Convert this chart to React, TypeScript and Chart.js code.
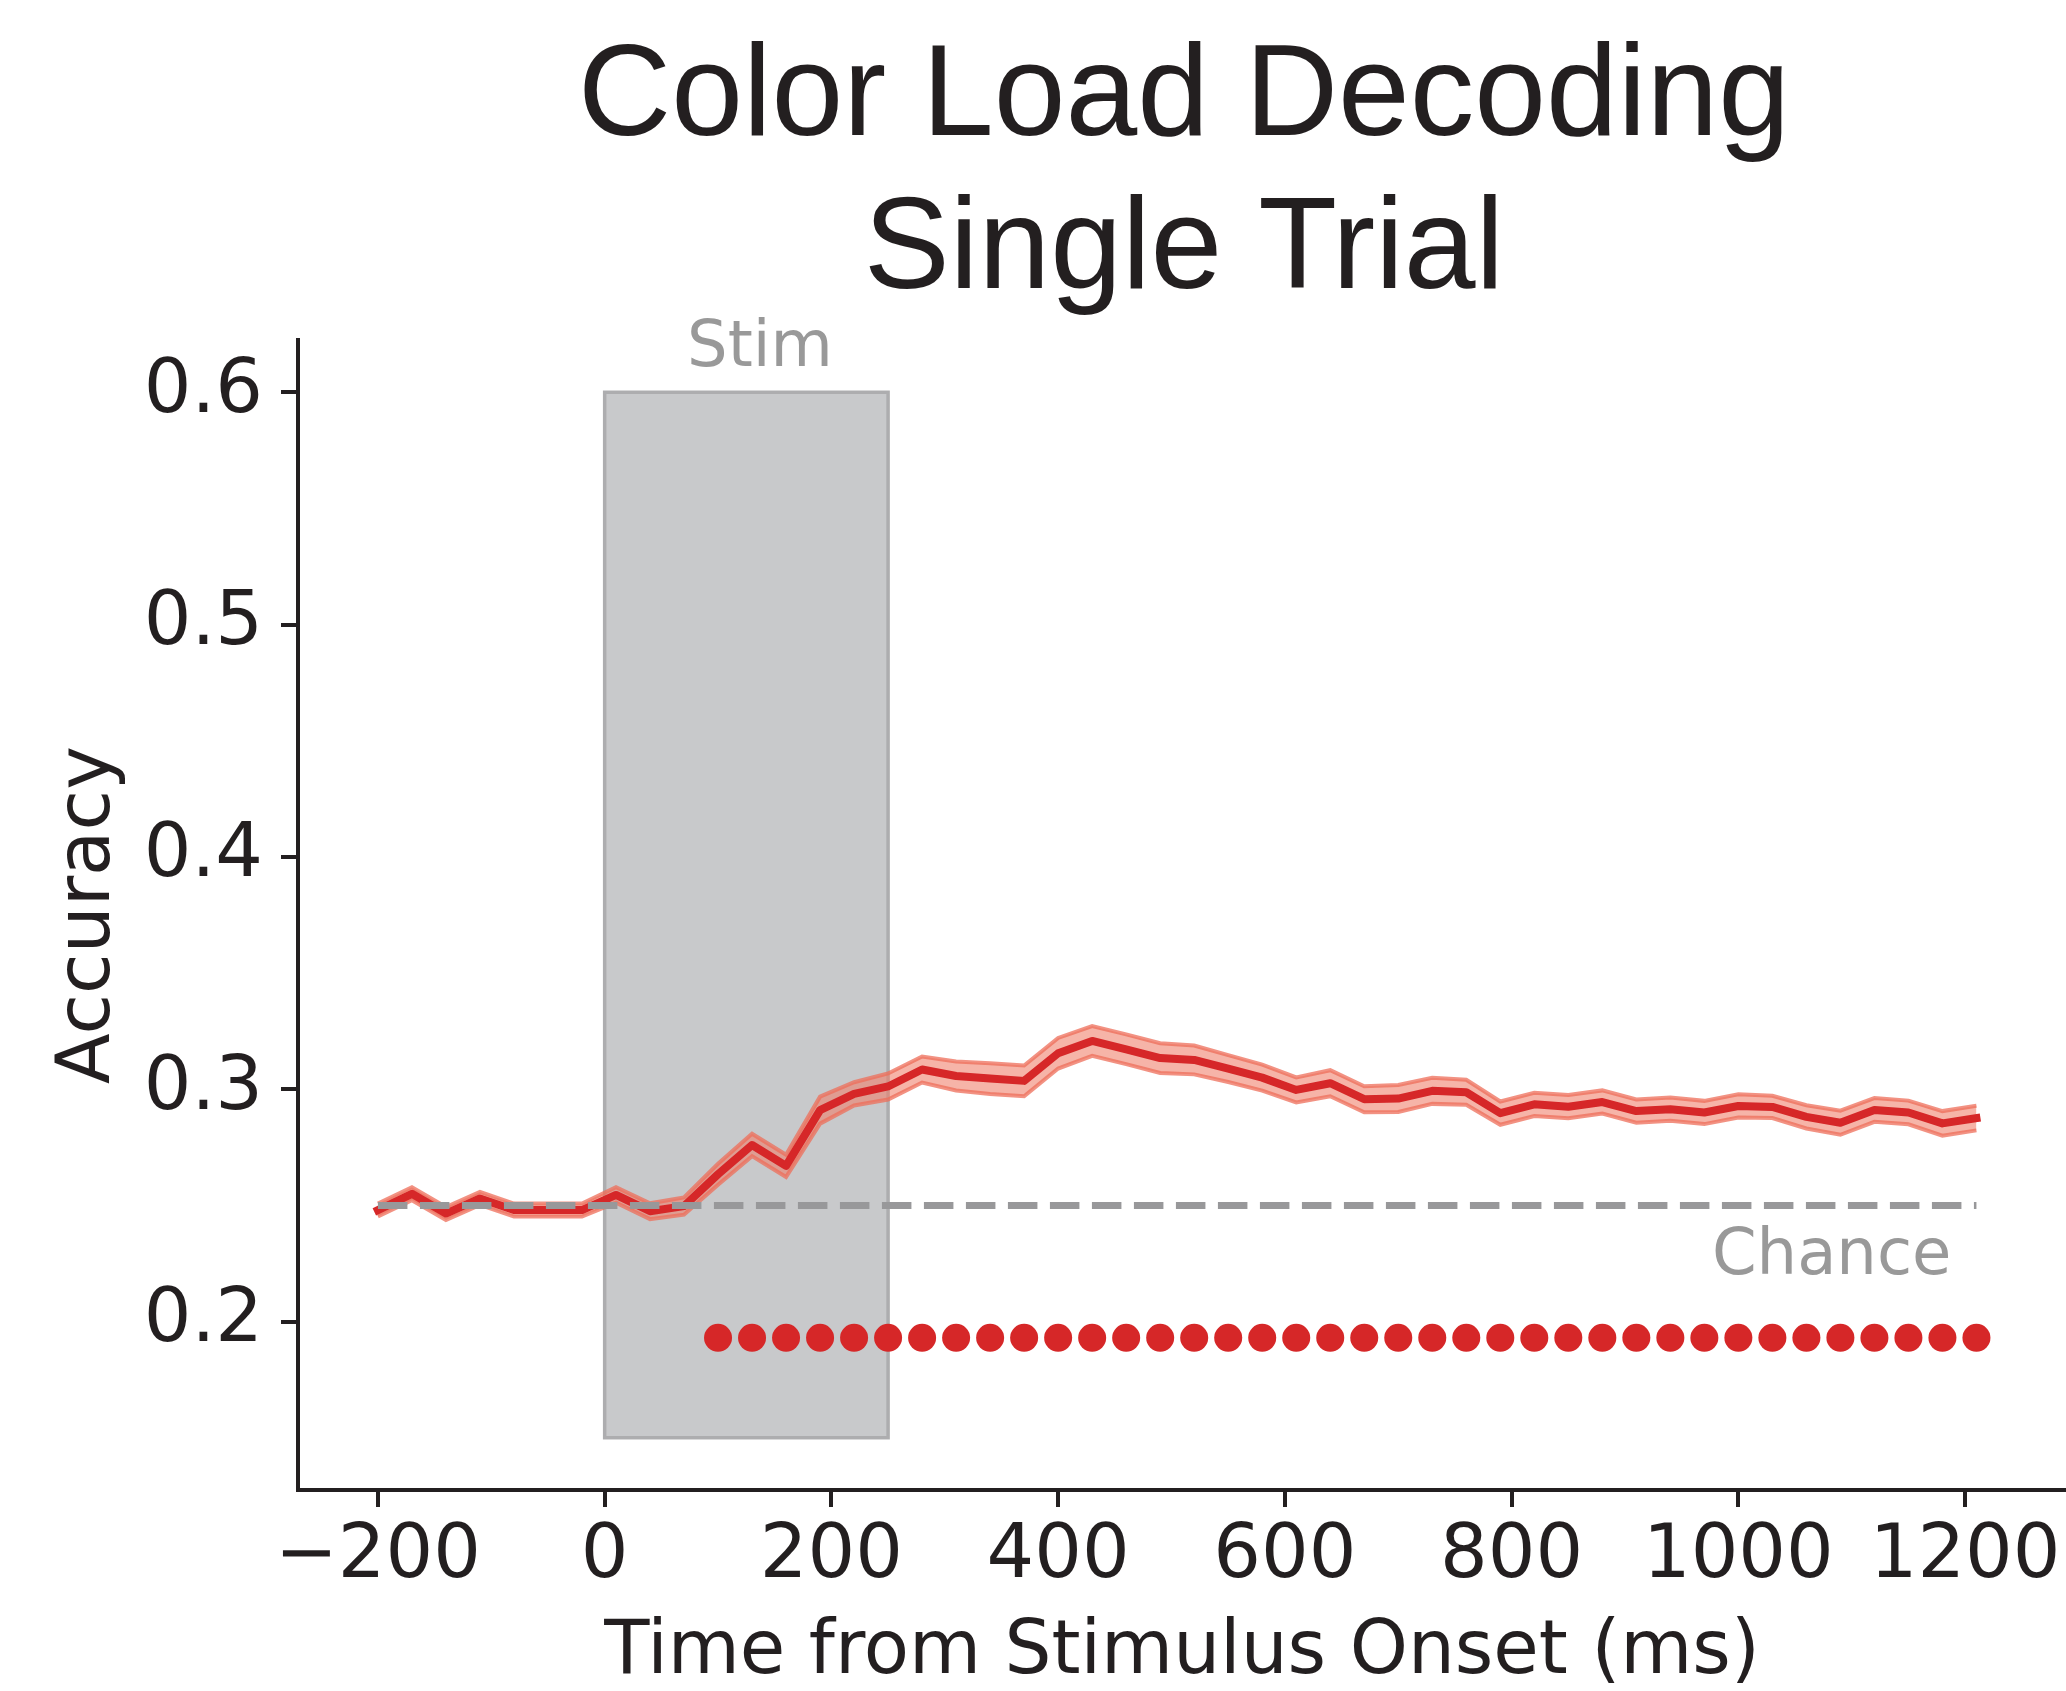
import React, { useEffect, useRef } from 'react';
import { Chart, registerables } from 'chart.js';

Chart.register(...registerables);

const TITLE_LINES = ['Color Load Decoding', 'Single Trial'];
const X_LABEL = 'Time from Stimulus Onset (ms)';
const Y_LABEL = 'Accuracy';

const TIMES = [
  -200, -170, -140, -110, -80, -50, -20, 10, 40, 70, 100, 130, 160, 190, 220, 250,
  280, 310, 340, 370, 400, 430, 460, 490, 520, 550, 580, 610, 640, 670, 700, 730,
  760, 790, 820, 850, 880, 910, 940, 970, 1000, 1030, 1060, 1090, 1120, 1150, 1180, 1210,
];

const MEAN = [
  0.248, 0.255, 0.2465, 0.253, 0.248, 0.248, 0.248, 0.2545, 0.2475, 0.2497, 0.2634, 0.276, 0.267, 0.291, 0.298, 0.3012,
  0.3085, 0.3057, 0.3046, 0.3036, 0.3155, 0.3208, 0.3172, 0.3134, 0.3126, 0.3089, 0.305, 0.2997, 0.3026, 0.2957, 0.296, 0.2993,
  0.2987, 0.2897, 0.2935, 0.2925, 0.2945, 0.2906, 0.2914, 0.29, 0.2928, 0.2924, 0.2881, 0.2856, 0.2911, 0.29, 0.2853, 0.2876,
];

const SEM = [
  0.0028, 0.0028, 0.0028, 0.0028, 0.0028, 0.0028, 0.0028, 0.0033, 0.0034, 0.0037, 0.0045, 0.0048, 0.0048, 0.0058, 0.005, 0.0056,
  0.0056, 0.0062, 0.0066, 0.0066, 0.0066, 0.0064, 0.0064, 0.0064, 0.0062, 0.0058, 0.0056, 0.0054, 0.0056, 0.0056, 0.0058, 0.0056,
  0.0054, 0.005, 0.005, 0.005, 0.005, 0.005, 0.005, 0.005, 0.005, 0.0048, 0.005, 0.0052, 0.0051, 0.0051, 0.0053, 0.0053,
];

const SIG_TIMES = [
  100, 130, 160, 190, 220, 250, 280, 310, 340, 370, 400, 430, 460, 490, 520, 550, 580, 610, 640,
  670, 700, 730, 760, 790, 820, 850, 880, 910, 940, 970, 1000, 1030, 1060, 1090, 1120, 1150, 1180, 1210,
];
const SIG_Y = 0.193;

const CHANCE = 0.25;
const STIM_START = 0;
const STIM_END = 250;
const STIM_LOW = 0.15;
const STIM_HIGH = 0.6;

const STIM_LABEL = { text: 'Stim', x: 137, y: 0.6115 };
const CHANCE_LABEL = { text: 'Chance', x: 1188, y: 0.2203 };
const TITLE_CENTER_X = 511;

const X_TICKS = [-200, 0, 200, 400, 600, 800, 1000, 1200];
const Y_TICKS = [0.2, 0.3, 0.4, 0.5, 0.6];
const X_MIN = -270.5;
const X_MAX = 1289;
const Y_MIN = 0.1275;
const Y_MAX = 0.6225;

const INK = '#231f20';
const RED = '#d62728';
const GRAY_TEXT = '#999999';
const TICK_FONT = { family: '"DejaVu Sans", sans-serif', size: 75 };

const zeroPadding = (s: any) => {
  s._calculatePadding = function () {
    this.paddingLeft = 0;
    this.paddingRight = 0;
    this.paddingTop = 0;
    this.paddingBottom = 0;
  };
};

const stimPlugin = {
  id: 'stimRect',
  beforeDraw(chart: any) {
    const { ctx, scales } = chart;
    const x = scales.x;
    const y = scales.y;
    const l = x.getPixelForValue(STIM_START);
    const r = x.getPixelForValue(STIM_END);
    const t = y.getPixelForValue(STIM_HIGH);
    const b = y.getPixelForValue(STIM_LOW);
    ctx.save();
    ctx.fillStyle = '#c8c9cb';
    ctx.fillRect(l, t, r - l, b - t);
    ctx.strokeStyle = '#adadaf';
    ctx.lineWidth = 3.5;
    ctx.strokeRect(l, t, r - l, b - t);
    ctx.restore();
  },
};

const textPlugin = {
  id: 'texts',
  afterDraw(chart: any) {
    const { ctx, scales, chartArea } = chart;
    const x = scales.x;
    const y = scales.y;
    ctx.save();
    ctx.fillStyle = INK;
    ctx.font = '129px "Liberation Sans", Arial, sans-serif';
    ctx.textAlign = 'center';
    ctx.textBaseline = 'alphabetic';
    const cx = x.getPixelForValue(TITLE_CENTER_X);
    ctx.fillText(TITLE_LINES[0], cx, chartArea.top - 205);
    ctx.fillText(TITLE_LINES[1], cx, chartArea.top - 52);

    ctx.fillStyle = GRAY_TEXT;
    ctx.font = '64px "DejaVu Sans", sans-serif';
    ctx.textAlign = 'center';
    ctx.fillText(STIM_LABEL.text, x.getPixelForValue(STIM_LABEL.x), y.getPixelForValue(STIM_LABEL.y));
    ctx.textAlign = 'right';
    ctx.fillText(CHANCE_LABEL.text, x.getPixelForValue(CHANCE_LABEL.x), y.getPixelForValue(CHANCE_LABEL.y));
    ctx.restore();
  },
};

const fmtX = (v: any) => {
  const n = Number(v);
  return n < 0 ? '\u2212' + Math.abs(n) : String(n);
};

export default function App() {
  const ref = useRef<HTMLCanvasElement | null>(null);

  useEffect(() => {
    document.body.style.margin = '0';
    document.body.style.overflow = 'hidden';
    const canvas = ref.current;
    if (!canvas) return;

    const upper = TIMES.map((t, i) => ({ x: t, y: MEAN[i] + SEM[i] }));
    const lower = TIMES.map((t, i) => ({ x: t, y: MEAN[i] - SEM[i] }));
    const mean = TIMES.map((t, i) => ({ x: t, y: MEAN[i] }));
    const chance = [
      { x: TIMES[0], y: CHANCE },
      { x: TIMES[TIMES.length - 1], y: CHANCE },
    ];
    const sig = SIG_TIMES.map((t) => ({ x: t, y: SIG_Y }));

    const chart = new Chart(canvas, {
      type: 'line',
      data: {
        datasets: [
          {
            label: 'significant',
            data: sig,
            showLine: false,
            pointRadius: 14,
            pointHoverRadius: 14,
            pointBackgroundColor: RED,
            pointBorderWidth: 0,
            clip: false,
            order: 0,
          },
          {
            label: 'chance',
            data: chance,
            borderColor: '#98989a',
            borderWidth: 7,
            borderDash: [29.5, 12.5],
            borderCapStyle: 'butt',
            pointRadius: 0,
            fill: false,
            order: 1,
          },
          {
            label: 'mean',
            data: mean,
            borderColor: RED,
            borderWidth: 8,
            borderJoinStyle: 'round',
            borderCapStyle: 'square',
            pointRadius: 0,
            fill: false,
            tension: 0,
            order: 2,
          },
          {
            label: 'upper',
            data: upper,
            borderColor: 'rgba(238,110,90,0.75)',
            borderWidth: 4,
            backgroundColor: 'rgba(240,125,105,0.58)',
            pointRadius: 0,
            fill: '+1',
            tension: 0,
            order: 3,
          },
          {
            label: 'lower',
            data: lower,
            borderColor: 'rgba(238,110,90,0.75)',
            borderWidth: 4,
            pointRadius: 0,
            fill: false,
            tension: 0,
            order: 4,
          },
        ],
      } as any,
      options: {
        animation: false,
        responsive: false,
        maintainAspectRatio: false,
        devicePixelRatio: 1,
        layout: { autoPadding: false, padding: { top: 340, right: 0, left: 0, bottom: 0 } },
        plugins: {
          legend: { display: false },
          tooltip: { enabled: false },
          title: { display: false },
          filler: { drawTime: 'beforeDatasetsDraw' },
        } as any,
        scales: {
          x: {
            type: 'linear',
            min: X_MIN,
            max: X_MAX,
            beforeUpdate: zeroPadding,
            afterBuildTicks: (s: any) => {
              s.ticks = X_TICKS.map((v) => ({ value: v }));
            },
            afterFit: (s: any) => {
              s.height = 201;
              s.paddingLeft = 0;
              s.paddingRight = 0;
            },
            ticks: {
              autoSkip: false,
              maxRotation: 0,
              minRotation: 0,
              padding: 6,
              color: INK,
              font: TICK_FONT,
              callback: fmtX,
            },
            grid: {
              drawOnChartArea: false,
              drawTicks: true,
              tickLength: 17,
              tickWidth: 4,
              tickColor: INK,
              color: INK,
              lineWidth: 4,
            },
            border: { display: true, color: INK, width: 4 },
            title: {
              display: true,
              text: X_LABEL,
              color: INK,
              font: { family: '"DejaVu Sans", sans-serif', size: 74, lineHeight: 1.0 },
              padding: { top: 0, bottom: 0 },
            },
          },
          y: {
            type: 'linear',
            min: Y_MIN,
            max: Y_MAX,
            beforeUpdate: zeroPadding,
            afterBuildTicks: (s: any) => {
              s.ticks = Y_TICKS.map((v) => ({ value: v }));
            },
            afterFit: (s: any) => {
              s.width = 298;
              s.paddingTop = 0;
              s.paddingBottom = 0;
            },
            ticks: {
              padding: 18,
              color: INK,
              font: TICK_FONT,
              callback: (v: any) => Number(v).toFixed(1),
            },
            grid: {
              drawOnChartArea: false,
              drawTicks: true,
              tickLength: 17,
              tickWidth: 4,
              tickColor: INK,
              color: INK,
              lineWidth: 4,
            },
            border: { display: true, color: INK, width: 4 },
            title: {
              display: true,
              text: Y_LABEL,
              color: INK,
              font: { family: '"DejaVu Sans", sans-serif', size: 74, lineHeight: 1.0 },
              padding: { top: 53, bottom: 0 },
            },
          },
        },
      } as any,
      plugins: [stimPlugin, textPlugin],
    });

    return () => {
      chart.destroy();
    };
  }, []);

  return (
    <div style={{ width: 2066, height: 1691, position: 'relative', background: '#ffffff' }}>
      <canvas ref={ref} width={2066} height={1691} style={{ display: 'block', width: 2066, height: 1691 }} />
    </div>
  );
}
